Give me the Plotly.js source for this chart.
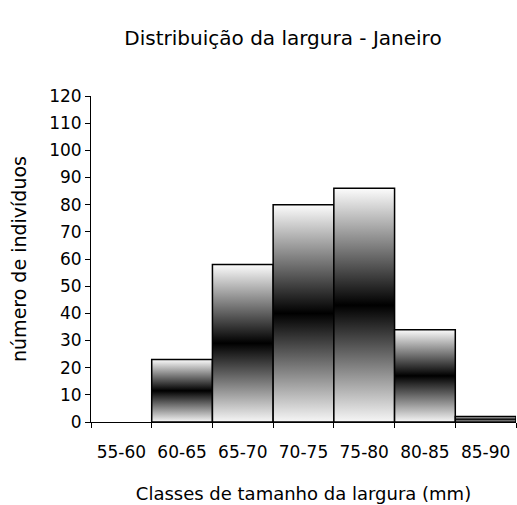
<!DOCTYPE html>
<html>
<head>
<meta charset="utf-8">
<script src="https://cdn.plot.ly/plotly-3.0.1.min.js"></script>
<style>
html,body{margin:0;padding:0;background:#fff;}
#chart{width:517px;height:505px;}
</style>
</head>
<body>
<div id="chart"></div>
<script>
const categories = ["55-60","60-65","65-70","70-75","75-80","80-85","85-90"];
const counts = [0, 23, 58, 80, 86, 34, 2];
const yTicks = [0,10,20,30,40,50,60,70,80,90,100,110,120];

const FONT = "'DejaVu Sans', Verdana, sans-serif";

const trace = {
  type: "bar",
  x: categories,
  y: counts,
  marker: { color: "#888", line: { color: "#000", width: counts.map(function (v) { return v > 0 ? 1.5 : 0; }) } },
  hoverinfo: "x+y"
};

const layout = {
  width: 517,
  height: 505,
  margin: { l: 91, r: 1, t: 96, b: 83 },
  paper_bgcolor: "#fff",
  plot_bgcolor: "#fff",
  bargap: 0,
  showlegend: false,
  font: { family: FONT, color: "#000", size: 17 },
  title: {
    text: "Distribuição da largura - Janeiro",
    x: 283/517, xref: "container", xanchor: "center",
    y: 1 - 38/505, yref: "container", yanchor: "middle",
    font: { family: FONT, size: 20, color: "#000" }
  },
  xaxis: {
    type: "category",
    tickson: "boundaries",
    ticks: "outside",
    ticklen: 5,
    tickcolor: "#000",
    ticklabelstandoff: 15,
    showline: true,
    linecolor: "#000",
    linewidth: 1,
    showgrid: false,
    zeroline: false,
    tickfont: { family: FONT, size: 17, color: "#000" },
    title: { text: "Classes de tamanho da largura (mm)", standoff: 25, font: { family: FONT, size: 18, color: "#000" } }
  },
  yaxis: {
    range: [0, 120],
    tickvals: yTicks,
    ticks: "outside",
    ticklen: 5,
    tickcolor: "#000",
    showline: true,
    linecolor: "#000",
    linewidth: 1,
    showgrid: false,
    zeroline: false,
    tickfont: { family: FONT, size: 17, color: "#000" },
    title: { text: "número de indivíduos", standoff: 17, font: { family: FONT, size: 19, color: "#000" } }
  }
};

Plotly.newPlot("chart", [trace], layout, { displayModeBar: false, staticPlot: true }).then(function (gd) {
  const svg = gd.querySelector("svg.main-svg");
  const ns = "http://www.w3.org/2000/svg";
  let defs = svg.querySelector("defs");
  if (!defs) { defs = document.createElementNS(ns, "defs"); svg.insertBefore(defs, svg.firstChild); }
  const grad = document.createElementNS(ns, "linearGradient");
  grad.setAttribute("id", "barGrad");
  grad.setAttribute("x1", "0"); grad.setAttribute("y1", "0");
  grad.setAttribute("x2", "0"); grad.setAttribute("y2", "1");
  [["0", "#fcfcfc"], ["0.5", "#000000"], ["1", "#f6f6f6"]].forEach(function (s) {
    const st = document.createElementNS(ns, "stop");
    st.setAttribute("offset", s[0]);
    st.setAttribute("stop-color", s[1]);
    grad.appendChild(st);
  });
  defs.appendChild(grad);
  gd.querySelectorAll(".barlayer .point path").forEach(function (p) {
    p.style.fill = "url(#barGrad)";
    p.style.fillOpacity = 1;
  });
});
</script>
</body>
</html>
